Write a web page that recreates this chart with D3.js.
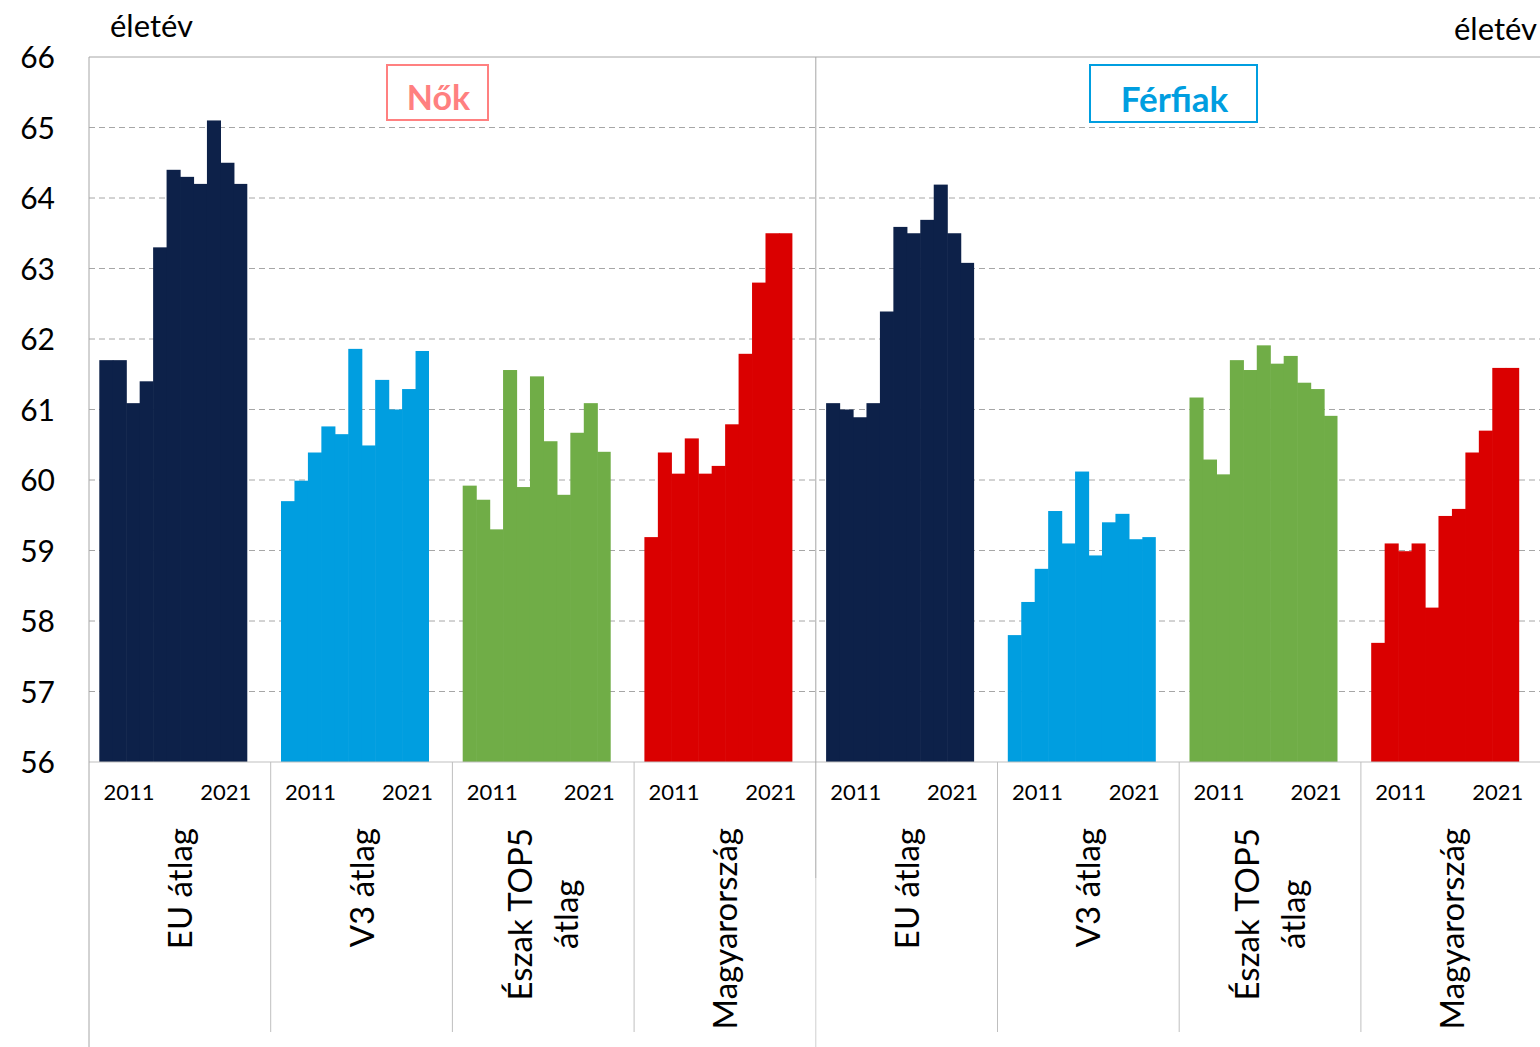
<!DOCTYPE html>
<meta charset="utf-8">
<style>
body { margin: 0; background: #fff; }
text { font-family: "Lato", "Open Sans", sans-serif; fill: #000; }
.grid line { stroke: #a6a6a6; stroke-width: 1; stroke-dasharray: 6,4; }
.axis--y path { display: none; }
.axis--y line { display: none; }
</style>
<svg width="1540" height="1047"></svg>
<script src="https://cdn.jsdelivr.net/npm/d3@7/dist/d3.min.js"></script>
<script>
// data (years 2011..2021, életév)
var years = ["2011","2012","2013","2014","2015","2016","2017","2018","2019","2020","2021"];
var groups = ["EU átlag", "V3 átlag", "Észak TOP5 átlag", "Magyarország"];
var groupColors = ["#0d2149", "#009ee0", "#70ad47", "#da0000"];

var nokEU   = [61.70, 61.70, 61.09, 61.40, 63.30, 64.40, 64.30, 64.20, 65.10, 64.50, 64.20];
var nokV3   = [59.70, 59.99, 60.39, 60.76, 60.65, 61.86, 60.49, 61.42, 61.00, 61.29, 61.83];
var nokTop5 = [59.92, 59.72, 59.30, 61.56, 59.90, 61.47, 60.55, 59.79, 60.67, 61.09, 60.40];
var nokHU   = [59.19, 60.39, 60.09, 60.59, 60.09, 60.20, 60.79, 61.79, 62.80, 63.50, 63.50];

var ffiEU   = [61.09, 61.00, 60.89, 61.09, 62.39, 63.59, 63.50, 63.69, 64.19, 63.50, 63.08];
var ffiV3   = [57.80, 58.27, 58.74, 59.56, 59.10, 60.12, 58.93, 59.40, 59.52, 59.16, 59.19];
var ffiTop5 = [61.17, 60.29, 60.08, 61.70, 61.56, 61.91, 61.65, 61.76, 61.38, 61.29, 60.91];
var ffiHU   = [57.69, 59.10, 58.99, 59.10, 58.19, 59.49, 59.59, 60.39, 60.70, 61.59, 61.59];

var yTicks = [56, 57, 58, 59, 60, 61, 62, 63, 64, 65, 66];

var panels = [
  {name: "Nők", color: "#ff8080", series: [nokEU, nokV3, nokTop5, nokHU]},
  {name: "Férfiak", color: "#009ee0", series: [ffiEU, ffiV3, ffiTop5, ffiHU]}
];

var svg = d3.select("svg"),
    margin = {top: 57, left: 89},
    height = 705,
    groupW = 181.7,
    width = groupW * 8,
    g = svg.append("g").attr("transform", "translate(" + margin.left + "," + margin.top + ")");

var cells = [];
panels.forEach(function(p, pi) {
  p.series.forEach(function(s, gi) {
    cells.push({panel: pi, group: gi, key: pi + "-" + gi, label: groups[gi], color: groupColors[gi], values: s});
  });
});

var x0 = d3.scaleBand().domain(cells.map(function(c) { return c.key; })).range([0, width]);
var x1 = d3.scaleBand().domain(years).range([10.3, 158.3]);
var y = d3.scaleLinear().domain([56, 66]).range([height, 0]);

// gridlines
g.append("g")
    .attr("class", "grid")
  .selectAll("line")
  .data(yTicks.filter(function(t) { return t > 56 && t < 66; }))
  .enter().append("line")
    .attr("x1", 0).attr("x2", width)
    .attr("y1", function(d) { return y(d); })
    .attr("y2", function(d) { return y(d); });

g.append("line")
    .attr("x1", 0).attr("x2", width)
    .attr("y1", y(66)).attr("y2", y(66))
    .style("stroke", "#a6a6a6");

// bars
var cell = g.selectAll(".cell")
  .data(cells)
  .enter().append("g")
    .attr("class", "cell")
    .attr("transform", function(d) { return "translate(" + x0(d.key) + ",0)"; });

cell.selectAll("rect")
  .data(function(d) { return d.values.map(function(v, i) { return {year: years[i], value: v, color: d.color, last: i == 10}; }); })
  .enter().append("rect")
    .attr("x", function(d) { return x1(d.year); })
    .attr("width", function(d) { return x1.bandwidth() + (d.last ? 0 : 0.6); })
    .attr("y", function(d) { return y(d.value); })
    .attr("height", function(d) { return height - y(d.value); })
    .style("fill", function(d) { return d.color; });

// x axis line and group separators
g.append("line")
    .attr("x1", 0).attr("x2", width)
    .attr("y1", height).attr("y2", height)
    .style("stroke", "#bfbfbf");

cells.forEach(function(c, i) {
  if (i == 0 || i == 4) return;
  g.append("line")
      .attr("x1", x0(c.key)).attr("x2", x0(c.key))
      .attr("y1", height).attr("y2", 975)
      .style("stroke", "#bfbfbf");
});

// outer separators
g.append("line")
    .attr("x1", 0).attr("x2", 0)
    .attr("y1", 0).attr("y2", 990)
    .style("stroke", "#a6a6a6");
g.append("line")
    .attr("x1", x0("1-0")).attr("x2", x0("1-0"))
    .attr("y1", 0).attr("y2", 821)
    .style("stroke", "#a6a6a6");
g.append("line")
    .attr("x1", x0("1-0")).attr("x2", x0("1-0"))
    .attr("y1", 821).attr("y2", 990)
    .style("stroke", "#cfcfcf");

// year labels
var yr = d3.scaleLinear().domain([0, 10]).range([x1(years[0]), x1(years[10])]);
cell.append("text")
    .attr("x", yr(1.7) + x1.bandwidth() / 2)
    .attr("y", height + 38)
    .attr("text-anchor", "middle")
    .style("font-size", "22px")
    .text(years[0]);
cell.append("text")
    .attr("x", yr(8.9) + x1.bandwidth() / 2)
    .attr("y", height + 38)
    .attr("text-anchor", "middle")
    .style("font-size", "22px")
    .text(years[10]);

// rotated group labels
cell.each(function(d) {
  var words = d.label == "Észak TOP5 átlag" ? ["Észak TOP5", "átlag"] : [d.label];
  var cx = groupW / 2;
  var t = d3.select(this).append("g");
  var texts = words.map(function(w) {
    return t.append("text")
        .attr("text-anchor", "middle")
        .style("font-size", "33px")
        .text(w);
  });
  var maxLen = d3.max(texts, function(s) { return s.node().getComputedTextLength(); });
  var lh = 46;
  texts.forEach(function(s, i) {
    var off = (i - (texts.length - 1) / 2) * lh;
    s.attr("transform", "translate(" + (cx + off + 12) + "," + (771 + maxLen / 2) + ") rotate(-90)");
  });
});

// y axis
g.append("g")
    .attr("class", "axis axis--y")
    .call(d3.axisLeft(y).tickValues(yTicks).tickSize(0).tickPadding(34).tickFormat(d3.format("d")))
  .selectAll("text")
    .style("font-size", "30px")
    .attr("dy", "0.35em");

// unit labels
svg.append("text")
    .attr("x", 110).attr("y", 37)
    .style("font-size", "31px")
    .text("életév");
svg.append("text")
    .attr("x", 1537).attr("y", 40)
    .attr("text-anchor", "end")
    .style("font-size", "31px")
    .text("életév");

// panel titles in boxes
var boxes = [
  {panel: 0, x: 387, y: 65, w: 101, h: 55, size: 34},
  {panel: 1, x: 1090, y: 65, w: 167, h: 57, size: 35}
];
boxes.forEach(function(b) {
  var p = panels[b.panel];
  svg.append("rect")
      .attr("x", b.x).attr("y", b.y)
      .attr("width", b.w).attr("height", b.h)
      .style("fill", "#fff")
      .style("stroke", p.color)
      .style("stroke-width", 2);
  svg.append("text")
      .attr("x", b.x + b.w / 2 + 1).attr("y", b.y + b.h / 2 + 6)
      .attr("text-anchor", "middle")
      .attr("dy", "0.35em")
      .style("font-size", b.size + "px")
      .style("font-weight", "bold")
      .style("fill", p.color)
      .text(p.name);
});
</script>
